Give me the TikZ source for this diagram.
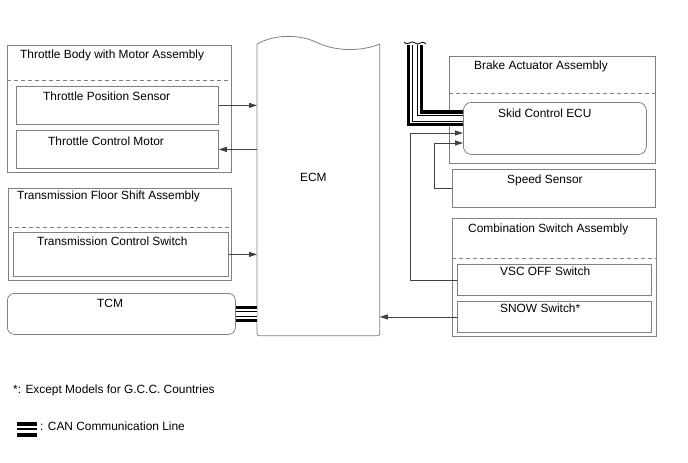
\documentclass[tikz,border=0pt]{standalone}
\usepackage{fontspec}
\setmainfont{Liberation Sans}
\usetikzlibrary{arrows.meta,calc}
\definecolor{boxgray}{HTML}{808080}
\definecolor{linegray}{HTML}{404040}
\newcommand\canpath[1]{%
  \draw[black,line width=16pt] #1;
  \draw[white,line width=9.4pt] #1;
  \draw[black,line width=6.4pt] #1;
  \draw[white,line width=4.4pt] #1;}
\begin{document}
\begin{tikzpicture}[x=1pt,y=-1pt,
  box/.style={draw=boxgray,line width=0.8pt,inner sep=0pt,anchor=north west},
  lbl/.style={anchor=base west,inner sep=0pt,font=\fontsize{11.9}{13}\selectfont},
  arr/.style={draw=linegray,line width=0.8pt,-{Triangle[length=8pt,width=5pt]}},
  dashline/.style={draw=boxgray,line width=0.8pt,dash pattern=on 4pt off 3pt}]
\useasboundingbox (0,0) rectangle (688,463);
% left column
\node[box,minimum width=224pt,minimum height=127pt] (tb) at (7,45) {};
\node[box,minimum width=202pt,minimum height=38pt] (tps) at (16,86) {};
\node[box,minimum width=202pt,minimum height=38pt] (tcmot) at (16,130) {};
\draw[dashline] ($(tb.north west)+(0,35)$) -- ($(tb.north east)+(0,35)$);
\node[box,minimum width=223pt,minimum height=92pt] (tfs) at (8,188) {};
\node[box,minimum width=215pt,minimum height=44pt] (tcs) at (13,232) {};
\draw[dashline] ($(tfs.north west)+(0,39)$) -- ($(tfs.north east)+(0,39)$);
\node[box,rounded corners=7pt,minimum width=228pt,minimum height=41pt] (tcm) at (7,293) {};
% ECM
\node[box,draw=none,minimum width=122pt,minimum height=291pt] (ecm) at (257,44) {};
\draw[boxgray,line width=0.8pt] (ecm.north west)
  .. controls ($(ecm.north west)+(18,-10)$) and ($(ecm.north west)+(43,-10)$) .. ($(ecm.north west)+(61,-1)$)
  .. controls ($(ecm.north west)+(78,7)$) and ($(ecm.north west)+(103,8)$) .. (ecm.north east)
  -- ($(ecm.south east)+(0,-5)$) .. controls (ecm.south east) .. ($(ecm.south east)+(-5,0)$)
  -- ($(ecm.south west)+(5,0)$) .. controls (ecm.south west) .. ($(ecm.south west)+(0,-5)$) -- cycle;
% right column
\node[box,minimum width=206pt,minimum height=107pt] (ba) at (449,56) {};
\draw[dashline] ($(ba.north west)+(0,37)$) -- ($(ba.north east)+(0,37)$);
\node[box,fill=white,rounded corners=8pt,minimum width=183pt,minimum height=52pt] (skid) at (463,102) {};
\node[box,minimum width=203pt,minimum height=38pt] (speed) at (452,169) {};
\node[box,minimum width=204pt,minimum height=118pt] (cs) at (452,218) {};
\draw[dashline] ($(cs.north west)+(0,40)$) -- ($(cs.north east)+(0,40)$);
\node[box,minimum width=194pt,minimum height=31pt] (vsc) at (457,264) {};
\node[box,minimum width=194pt,minimum height=31pt] (snow) at (457,301) {};
% texts
\node[lbl] (t1) at (20,58) {Throttle Body with Motor Assembly};
\node[lbl] (t2) at (43,100) {Throttle Position Sensor};
\node[lbl] (t3) at (48,145) {Throttle Control Motor};
\node[lbl] (t4) at (17,199) {Transmission Floor Shift Assembly};
\node[lbl] (t5) at (37,245) {Transmission Control Switch};
\node[lbl] (t6) at (97,307) {TCM};
\node[lbl] (t7) at (300,181) {ECM};
\node[lbl] (t8) at (474,69) {Brake Actuator Assembly};
\node[lbl] (t9) at (498,117) {Skid Control ECU};
\node[lbl] (t10) at (507,183) {Speed Sensor};
\node[lbl] (t11) at (468,232) {Combination Switch Assembly};
\node[lbl] (t12) at (500,275) {VSC OFF Switch};
\node[lbl] (t13) at (500,312) {SNOW Switch*};
\node[lbl] (t14) at (13,393) {*: Except Models for G.C.C. Countries};
\node[lbl] (t15) at (40,430) {: CAN Communication Line};
% connectors
\draw[arr] (tps.east) -- (tps.east -| ecm.west);
\draw[arr] (tcmot.east -| ecm.west) -- (tcmot.east);
\draw[arr] (tcs.east) -- (tcs.east -| ecm.west);
\draw[arr] (snow.west) -- (snow.west -| ecm.east);
\coordinate (v1) at (410,133);
\coordinate (v2) at (434,143);
\draw[arr] (vsc.west) -| (v1) -- (v1 -| skid.west);
\draw[arr] (speed.west) -| (v2) -- (v2 -| skid.west);
% CAN lines
\canpath{(tcm.east) -- (tcm.east -| ecm.west)}
\coordinate (cantop) at (415,45);
\canpath{(cantop) |- ($(skid.west)+(0,-10)$)}
\draw[black,line width=0.8pt] (404,42) .. controls (409,47) and (411,39) .. (415,43) .. controls (419,47) and (421,39) .. (426,44);
% legend symbol
\fill[black] (17,422) rectangle (37,425.5);
\fill[black] (17,428) rectangle (37,429.5);
\fill[black] (17,432.5) rectangle (37,436.5);
\end{tikzpicture}
\end{document}
